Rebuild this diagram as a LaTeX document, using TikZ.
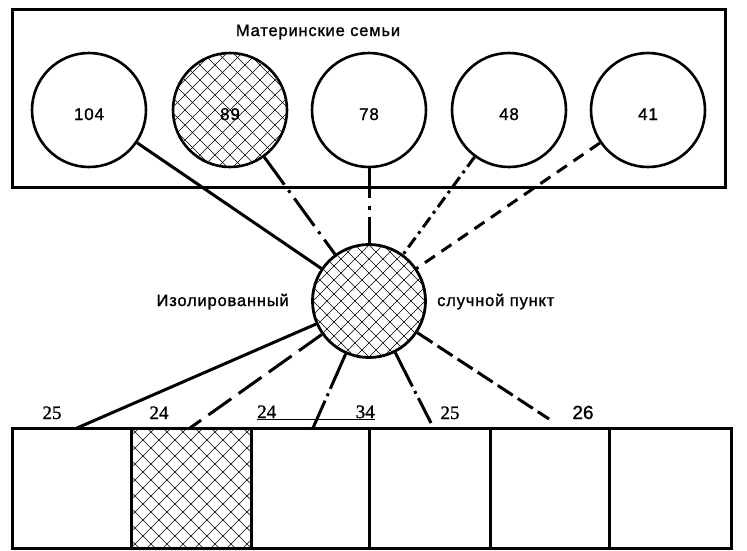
\documentclass[tikz,border=0pt]{standalone}
\usepackage{fontspec}
\setmainfont[FakeBold=1.2]{Liberation Serif}
\newfontfamily\labfont[LetterSpace=5,FakeBold=1.2]{Liberation Sans}
\newfontfamily\numsans[FakeBold=1.2]{Liberation Sans}
\begin{document}
\begin{tikzpicture}[x=1pt,y=-1pt,
  frame/.style={draw,line width=3pt,inner sep=0pt},
  fam/.style={circle,draw,line width=2.6pt,minimum size=114pt,inner sep=0pt,
    font=\labfont\fontsize{17}{17}\selectfont,text height=20pt,text depth=0pt},
  hubc/.style={circle,draw,line width=2.8pt,minimum size=113pt,inner sep=0pt},
  lab/.style={font=\labfont\fontsize{16.5}{16.5}\selectfont,inner sep=0pt},
  num/.style={font=\fontsize{19}{19}\selectfont,inner sep=0pt,anchor=base},
  hatch/.style={line width=0.55pt},
  conn/.style={line width=3pt},
  cdash/.style={conn,dash pattern=on 12pt off 8pt},
  cdashlong/.style={conn,dash pattern=on 28pt off 9pt},
  cdashmid/.style={conn,dash pattern=on 18pt off 6pt},
  cdot/.style={conn,dash pattern=on 34pt off 7pt on 3pt off 7pt},
  cdotshort/.style={conn,dash pattern=on 12pt off 5pt on 3pt off 5pt},
  cdotv/.style={conn,dash pattern=on 30pt off 8pt on 4pt off 7pt},
  cdotb/.style={conn,dash pattern=on 38pt off 5pt on 3pt off 5pt}
]
\useasboundingbox (0,0) rectangle (747,550);

% top frame
\node[frame,minimum width=713pt,minimum height=178pt] (top) at (368.5,98.5) {};
\node[lab,anchor=base] (title) at (318,36) {Материнские семьи};

% hatching of circle 89
\begin{scope}
  \clip (230,110) circle[radius=57pt];
  \foreach \d in {-135,-120,...,135} {
    \draw[hatch] (230+\d-70,110-70) -- (230+\d+70,110+70);
    \draw[hatch] (230+\d-70,110+70) -- (230+\d+70,110-70);
  }
\end{scope}
% hatching of hub
\begin{scope}
  \clip (369,301) circle[radius=56.5pt];
  \foreach \d in {-140,-126,...,140} {
    \draw[hatch] (369+\d-70,301-70) -- (369+\d+70,301+70);
    \draw[hatch] (369+\d-70,301+70) -- (369+\d+70,301-70);
  }
\end{scope}
% hatching of box 2
\begin{scope}
  \clip (131,428) rectangle (251,548);
  \foreach \d in {-192,-176,...,192} {
    \draw[hatch] (191+\d-80,488-80) -- (191+\d+80,488+80);
    \draw[hatch] (191+\d-80,488+80) -- (191+\d+80,488-80);
  }
\end{scope}

% mother families
\node[fam] (c104) at (89,110) {104};
\node[fam] (c89) at (230,110) {89};
\node[fam] (c78) at (369,110) {78};
\node[fam] (c48) at (509,110) {48};
\node[fam] (c41) at (648,110) {41};

% hub
\node[hubc] (hub) at (369,301) {};
\node[lab,anchor=base east] (l1) at (289,306) {Изолированный};
\node[lab,anchor=base west] (l2) at (437,306) {случной пункт};

% bottom boxes
\node[frame,minimum width=119pt,minimum height=120pt] (b1) at (71.5,488) {};
\node[frame,minimum width=120pt,minimum height=120pt] (b2) at (191,488) {};
\node[frame,minimum width=118pt,minimum height=120pt] (b3) at (310,488) {};
\node[frame,minimum width=121pt,minimum height=120pt] (b4) at (429.5,488) {};
\node[frame,minimum width=119pt,minimum height=120pt] (b5) at (549.5,488) {};
\node[frame,minimum width=122pt,minimum height=120pt] (b6) at (670,488) {};

% connector ends on the bottom row
\coordinate (t1) at (77,428);
\coordinate (t2) at (190,428);
\coordinate (t3) at (313,428);
\coordinate (t4) at (431,423);
\coordinate (t5) at (549,419);

% connectors top
\draw[conn] (c104) -- (hub);
\draw[cdot] (c89) -- (hub);
\draw[cdotv] (c78) -- (hub);
\draw[cdotshort] (c48) -- (hub);
\draw[cdash] (c41) -- (hub);

% connectors bottom
\draw[conn] (hub) -- (t1);
\draw[cdashlong] (hub) -- (t2);
\draw[cdotb] (hub) -- (t3);
\draw[cdotb] (hub) -- (t4);
\draw[cdashmid] (hub) -- (t5);

% numbers
\node[num] (n1) at (52,419) {25};
\node[num] (n2) at (159,419) {24};
\node[num,anchor=base west] (n3) at (257,418) {24};
\node[num,anchor=base east] (n4) at (375,418) {34};
\node[num] (n5) at (450,419) {25};
\node[num,font=\numsans\fontsize{19}{19}\selectfont] (n6) at (583,419) {26};
\draw[line width=1.3pt] ([yshift=-1.5pt]n3.base west) -- ([yshift=-1.5pt]n4.base east);
\end{tikzpicture}
\end{document}
